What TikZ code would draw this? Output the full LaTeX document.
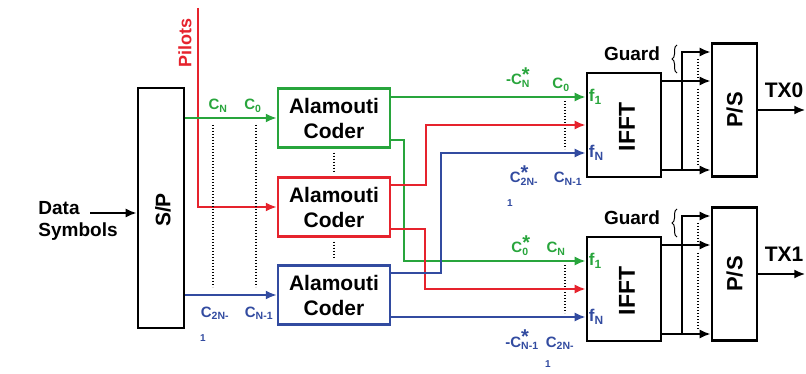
\documentclass[tikz,border=0pt]{standalone}
\usepackage{fontspec}
\setmainfont{Liberation Sans}
\usetikzlibrary{arrows.meta,decorations.pathreplacing}
\definecolor{codegreen}{RGB}{40,165,60}
\definecolor{codered}{RGB}{230,35,45}
\definecolor{codeblue}{RGB}{50,75,160}
\newcommand{\bsize}[1]{\fontsize{#1}{#1}\selectfont\bfseries}
\newcommand{\cstar}[1]{C\rlap{\raisebox{3.5pt}{\fontsize{20}{20}\selectfont *}}\textsubscript{#1}}
\begin{document}
\begin{tikzpicture}[x=1pt, y=-1pt, >={Latex[length=11pt,width=9pt]},
    block/.style={draw, line width=2.6pt, inner sep=0pt},
    coder/.style={draw=#1, line width=2.4pt, minimum width=112pt, minimum height=59pt,
        align=center, font=\fontsize{21}{25}\selectfont\bfseries, inner sep=0pt},
    wire/.style={draw=#1, line width=2pt},
    dots/.style={line width=1.3pt, dash pattern=on 1.4pt off 1.6pt},
    lab/.style={text=#1, font=\bsize{15}, inner sep=0pt, anchor=base}]
    \useasboundingbox (0,0) rectangle (806,374);

    % serial to parallel
    \node[block, minimum width=46pt, minimum height=240pt] (sp) at (161,208) {};
    \node[font=\bsize{21}, rotate=90] (sptext) at (163,210) {S/P};
    \node[font=\fontsize{19}{22}\selectfont\bfseries, align=left] (data) at (78,221) {Data\\Symbols};
    \coordinate (datain) at (90,213);
    \draw[line width=2pt, ->] (datain) -- (sp.west |- datain);

    % coders
    \foreach \k/\col/\yc in {0/codegreen/118, 1/codered/207, 2/codeblue/295}
        \node[coder=\col] (coder\k) at (334,\yc) {Alamouti\\Coder};
    \draw[dots] ([yshift=-4pt]coder0.south) -- ([yshift=5pt]coder1.north);
    \draw[dots] ([yshift=-4pt]coder1.south) -- ([yshift=5pt]coder2.north);

    \coordinate (pilot) at (198,8);
    \node[text=codered, font=\bsize{18}, rotate=90] (pilottext) at (185,43) {Pilots};
    \draw[wire=codered, ->] (pilot) |- (coder1.west);
    \draw[wire=codegreen, ->] (sp.east |- coder0.west) -- (coder0.west);
    \draw[wire=codeblue, ->] (sp.east |- coder2.west) -- (coder2.west);
    \draw[dots] (213,125) -- (213,287);
    \draw[dots] (256,125) -- (256,287);

    \node[lab=codegreen] (cn) at (218,110) {C\textsubscript{N}};
    \node[lab=codegreen] (c0) at (253,110) {C\textsubscript{0}};
    \node[lab=codeblue] (c2n) at (215,317) {C\textsubscript{2N-}};
    \node[lab=codeblue, font=\bsize{10}] (c2none) at (203,341) {1};
    \node[lab=codeblue] (cn1) at (259,317) {C\textsubscript{N-1}};

    % IFFT, guard and P/S
    \foreach \k/\yc in {0/125, 1/289} {
        \node[block, minimum width=74pt, minimum height=104pt] (ifft\k) at (624,\yc) {};
        \node[font=\bsize{23}, rotate=90] (iffttext\k) at (627,\yc+2) {IFFT};
        \coordinate (in\k-1) at ([yshift=28pt]ifft\k.west);
        \coordinate (in\k-2) at (ifft\k.west);
        \coordinate (in\k-3) at ([yshift=-28pt]ifft\k.west);
        \node[text=codegreen, font=\bsize{17}, anchor=west, inner sep=0pt] (f\k-1) at ([xshift=3pt]in\k-1) {f\textsubscript{1}};
        \node[text=codeblue, font=\bsize{17}, anchor=west, inner sep=0pt] (f\k-n) at ([xshift=3pt]in\k-3) {f\textsubscript{N}};
        \draw[dots] (565,\yc-24) -- (565,\yc+24);

        \node[block, minimum width=45pt, minimum height=133pt] (ps\k) at (734.5,\yc-15) {};
        \node[font=\bsize{22}, rotate=90] (pstext\k) at (ps\k) {P/S};
        \coordinate (g\k-1) at ([yshift=44pt]ifft\k.east);
        \coordinate (g\k-2) at ([yshift=-45pt]ifft\k.east);
        \coordinate (tap\k) at ([xshift=20pt]g\k-2);
        \coordinate (guard\k) at ([yshift=118pt]tap\k);
        \draw[line width=2pt, ->] (g\k-1) -- (ps\k.west |- g\k-1);
        \draw[line width=2pt, ->] (g\k-2) -- (ps\k.west |- g\k-2);
        \draw[line width=2pt, ->] (tap\k) -- (guard\k) -- (ps\k.west |- guard\k);
        \draw[dots] (698,\yc-66) -- (698,\yc-47);
        \draw[dots] (698,\yc-36) -- (698,\yc+40);
        \draw[line width=1pt, decorate, decoration={brace, amplitude=5pt}] (677,\yc-52) -- (677,\yc-80);
        \node[font=\bsize{19}] (guardtext\k) at (632,\yc-71) {Guard};
        \draw[line width=2pt, ->] (ps\k.east) -- ++(47,0) coordinate (tx\k);
        \node[font=\bsize{21}] (txtext\k) at (784,\yc-35) {TX\k};
    }

    % coder outputs
    \draw[wire=codegreen, ->] (coder0.east |- in0-1) -- (in0-1);
    \draw[wire=codegreen, ->] ([yshift=-22pt]coder0.east) -- ++(13,0) |- (in1-1);
    \draw[wire=codered, ->] ([yshift=22pt]coder1.east) -- ++(35,0) |- (in0-2);
    \draw[wire=codered, ->] ([yshift=-22pt]coder1.east) -- ++(34,0) |- (in1-2);
    \draw[wire=codeblue, ->] ([yshift=22pt]coder2.east) -- ++(50,0) |- (in0-3);
    \draw[wire=codeblue, ->] (coder2.east |- in1-3) -- (in1-3);

    \node[lab=codegreen] (ncn) at (518,85) {-\cstar{N}};
    \node[lab=codegreen] (c0a) at (561,89) {C\textsubscript{0}};
    \node[lab=codeblue] (c2nstar) at (524,183) {\cstar{2N-}};
    \node[lab=codeblue, font=\bsize{10}] (c2nstarone) at (510,207) {1};
    \node[lab=codeblue] (cn1a) at (568,183) {C\textsubscript{N-1}};
    \node[lab=codegreen] (c0star) at (520,253) {\cstar{0}};
    \node[lab=codegreen] (cnb) at (556,253) {C\textsubscript{N}};
    \node[lab=codeblue] (ncn1) at (522,347) {-\cstar{N-1}};
    \node[lab=codeblue] (c2nb) at (560,347) {C\textsubscript{2N-}};
    \node[lab=codeblue, font=\bsize{10}] (c2nbone) at (548,367) {1};
\end{tikzpicture}
\end{document}
